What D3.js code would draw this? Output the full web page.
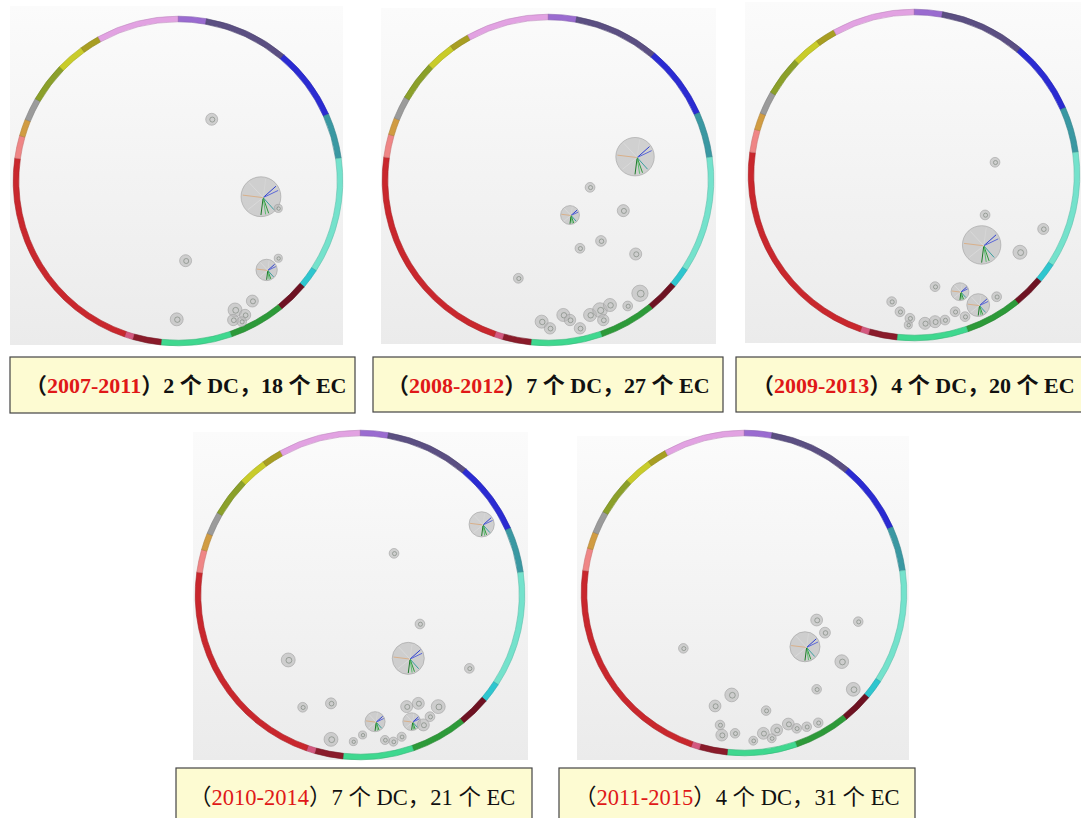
<!DOCTYPE html>
<meta charset="utf-8">
<script src="https://d3js.org/d3.v7.min.js"></script>
<style>
  body { margin: 0; background: #fff; }
</style>
<div id="my_dataviz"></div>
<script>

// ring categories: span of each one in degrees, clockwise from the top
var ringSpans = [10, 30, 26, 16, 41, 7, 11, 20, 25, 10, 3, 79, 8, 6, 8, 14, 10, 7, 29];
var ringColors = ["#9a6bd0", "#5b4f82", "#2b2bd2", "#3a98a2", "#74e2cc", "#2ec6cf", "#6e1222",
                  "#2d9a39", "#3fd88f", "#8a1b2a", "#d4587f", "#c9272d", "#ef8686", "#d19c42",
                  "#9b9b9b", "#8ba02a", "#c9cc2a", "#a89e22", "#e2a2e2"];

// one caption per window
var periods  = ["2007-2011", "2008-2012", "2009-2013", "2010-2014", "2011-2015"];
var dcCounts = [2, 7, 4, 7, 4];
var ecCounts = [18, 27, 20, 21, 31];

// bubbles: [x, y, r] in ring units (ring radius = 100, y up)
var bubbles2007 = [
  [20.8, 38.1, 3.7], [51.2, -9.7, 12.3], [61.9, -16.9, 2.5], [4.7, -49.2, 3.7],
  [54.7, -54.9, 6.6], [61.9, -47.7, 2.5], [45.9, -74.1, 3.7], [35.2, -79.6, 4.3],
  [41.4, -82.7, 3.5], [34.1, -85.8, 3.5], [39.3, -86.8, 3.0], [-0.8, -85.4, 4.0]
];
var bubbles2008 = [
  [53.4, 14.3, 11.8], [25.8, -4.5, 3.0], [13.5, -21.5, 5.8], [46.2, -18.8, 3.7],
  [19.6, -41.9, 3.0], [32.5, -37.4, 3.3], [53.8, -45.4, 3.7], [-18.2, -60.3, 3.0],
  [-3.9, -86.9, 4.0], [1.2, -91.0, 3.5], [9.4, -82.8, 4.0], [13.5, -85.9, 3.5],
  [19.6, -91.0, 3.5], [25.8, -82.8, 4.0], [31.9, -79.8, 4.5], [38.0, -76.7, 4.0],
  [33.9, -85.9, 3.5], [48.9, -77.3, 3.0], [56.4, -69.5, 5.0]
];
var bubbles2009 = [
  [49.7, 7.8, 3.0], [43.6, -24.5, 3.0], [41.5, -42.9, 11.8], [79.3, -33.1, 3.4],
  [65.0, -47.4, 4.3], [12.9, -68.5, 3.0], [28.2, -71.6, 5.5], [39.4, -79.8, 7.0],
  [50.7, -74.7, 3.0], [-13.7, -77.7, 3.0], [-8.6, -83.9, 3.0], [-2.5, -87.9, 3.0],
  [-3.5, -92.0, 2.5], [6.7, -91.0, 3.7], [12.9, -90.0, 3.7], [19.0, -89.0, 3.0],
  [25.2, -83.9, 3.0], [31.3, -86.9, 3.0]
];
var bubbles2010 = [
  [75.1, 43.6, 7.8], [21.0, 25.7, 3.0], [37.0, -17.9, 3.0], [29.8, -39.1, 9.9],
  [-44.3, -40.1, 4.3], [67.5, -45.3, 3.0], [-35.4, -69.3, 3.0], [-17.9, -66.9, 3.4],
  [-17.9, -89.1, 4.3], [-4.1, -90.5, 2.5], [1.6, -86.4, 2.5], [9.3, -78.2, 6.2],
  [15.4, -89.5, 2.8], [20.6, -90.5, 2.8], [28.8, -68.9, 3.7], [36.0, -66.9, 3.7],
  [48.3, -68.9, 4.3], [31.9, -78.2, 5.5], [39.1, -80.2, 3.7], [43.2, -75.1, 3.0],
  [25.7, -87.5, 2.8]
];
var bubbles2011 = [
  [-37.9, -34.6, 3.0], [38.1, -33.6, 9.4], [45.4, -16.9, 3.7], [50.6, -24.8, 3.4],
  [71.4, -17.9, 3.0], [61.1, -42.9, 4.3], [45.4, -60.2, 3.0], [68.3, -60.2, 4.3],
  [-7.7, -63.7, 4.3], [-18.1, -70.6, 3.7], [13.8, -73.5, 3.0], [-15.0, -82.5, 3.0],
  [-13.9, -88.8, 3.7], [-5.6, -87.7, 3.0], [5.8, -92.3, 2.8], [12.1, -87.7, 3.7],
  [20.4, -85.6, 3.7], [27.7, -81.9, 3.7], [32.9, -84.6, 3.0], [39.2, -83.6, 3.0],
  [46.4, -81.1, 3.0], [17.3, -90.8, 2.8]
];

// spokes inside the big bubbles (angle in degrees clockwise from top)
var spokeAngles = [15, 55, 70, 135, 155, 165, 180, 225, 275, 320];
var spokeColors = ["#d6d6d6", "#2d3fd0", "#5b67d8", "#3aa0a0", "#2f9a3a", "#5cc070", "#1f7a2a",
                   "#dadada", "#d9b08a", "#dadada"];

var allBubbles = [bubbles2007, bubbles2008, bubbles2009, bubbles2010, bubbles2011];

// layout of the five panels
var panels = [
  {bg: [10, 6, 333, 339],   cx: 178, cy: 181, R: 162, box: [10, 357, 345, 56],  tx: 25,  ty: 393, bold: true},
  {bg: [381, 8, 335, 336],  cx: 548, cy: 180, R: 163, box: [373, 357, 350, 55], tx: 387, ty: 393, bold: true},
  {bg: [745, 2, 336, 341],  cx: 914, cy: 175, R: 163, box: [736, 357, 360, 55], tx: 752, ty: 393, bold: true},
  {bg: [193, 432, 335, 328], cx: 360, cy: 595, R: 162, box: [176, 768, 356, 60], tx: 189, ty: 805, bold: false},
  {bg: [577, 436, 332, 324], cx: 744, cy: 593, R: 160, box: [559, 768, 356, 60], tx: 574, ty: 805, bold: false}
];

var svg = d3.select("#my_dataviz")
  .append("svg")
    .attr("width", 1081)
    .attr("height", 818);

var defs = svg.append("defs");
var grad = defs.append("linearGradient")
    .attr("id", "bggrad")
    .attr("x1", 0).attr("y1", 0).attr("x2", 0).attr("y2", 1);
grad.append("stop").attr("offset", "0%").attr("stop-color", "#fbfbfb");
grad.append("stop").attr("offset", "100%").attr("stop-color", "#ebebeb");

var pie = d3.pie().sort(null).value(function(d) { return d; })
    .startAngle(0).endAngle(2 * Math.PI);
var ringArcs = pie(ringSpans);

panels.forEach(function(p, i) {

  var g = svg.append("g");

  // panel background
  g.append("rect")
    .attr("x", p.bg[0]).attr("y", p.bg[1])
    .attr("width", p.bg[2]).attr("height", p.bg[3])
    .style("fill", "url(#bggrad)");

  var x = d3.scaleLinear().domain([-100, 100]).range([p.cx - p.R, p.cx + p.R]);
  var y = d3.scaleLinear().domain([-100, 100]).range([p.cy + p.R, p.cy - p.R]);
  var r = d3.scaleLinear().domain([0, 100]).range([0, p.R]);

  // colored ring
  var arc = d3.arc().innerRadius(p.R - 2.8).outerRadius(p.R + 2.8);
  g.append("g")
    .attr("transform", "translate(" + p.cx + "," + p.cy + ")")
    .selectAll("path")
    .data(ringArcs)
    .enter()
    .append("path")
      .attr("d", arc)
      .style("fill", function(d, j) { return ringColors[j]; })
      .style("stroke", function(d, j) { return d3.color(ringColors[j]).darker(0.5); })
      .style("stroke-width", 0.6);

  // bubbles
  var data = allBubbles[i];
  var b = g.selectAll(".bubble")
    .data(data)
    .enter()
    .append("g")
      .attr("class", "bubble")
      .attr("transform", function(d) { return "translate(" + x(d[0]) + "," + y(d[1]) + ")"; });

  b.append("circle")
    .attr("r", function(d) { return r(d[2]); })
    .style("fill", "#b8b8b8")
    .style("fill-opacity", 0.6)
    .style("stroke", "#9c9c9c")
    .style("stroke-opacity", 0.7)
    .style("stroke-width", 0.8);

  // small bubbles: a little ring glyph inside
  b.filter(function(d) { return d[2] < 5.5; })
    .append("circle")
      .attr("cx", function(d) { return r(d[2]) * 0.1; })
      .attr("cy", function(d) { return r(d[2]) * 0.05; })
      .attr("r", function(d) { return r(d[2]) * 0.42; })
      .style("fill", "none")
      .style("stroke", "#6f7a70")
      .style("stroke-opacity", 0.7)
      .style("stroke-width", 0.8);

  // big bubbles: spokes
  b.filter(function(d) { return d[2] >= 5.5; })
    .each(function(d) {
      var rr = r(d[2]) * 0.92;
      d3.select(this).selectAll("line")
        .data(spokeAngles)
        .enter()
        .append("line")
          .attr("x1", rr * 0.12).attr("y1", rr * 0.05)
          .attr("x2", function(a) { return rr * Math.sin(a * Math.PI / 180); })
          .attr("y2", function(a) { return -rr * Math.cos(a * Math.PI / 180); })
          .style("stroke", function(a, k) { return spokeColors[k]; })
          .style("stroke-width", 1);
    });

  // caption box
  g.append("rect")
    .attr("x", p.box[0]).attr("y", p.box[1])
    .attr("width", p.box[2]).attr("height", p.box[3])
    .style("fill", "#fdfbd2")
    .style("stroke", "#444")
    .style("stroke-width", 1.2);

  var t = g.append("text")
    .attr("x", p.tx).attr("y", p.ty)
    .style("font-family", "'Liberation Serif', 'Noto Sans CJK SC', serif")
    .style("font-size", p.bold ? "22px" : "22.5px")
    .style("font-weight", p.bold ? "bold" : "normal")
    .style("fill", "#111");
  t.append("tspan").text("（");
  t.append("tspan").style("fill", "#e01818").text(periods[i]);
  t.append("tspan").text("）" + dcCounts[i] + " 个 DC，" + ecCounts[i] + " 个 EC");
});

</script>
